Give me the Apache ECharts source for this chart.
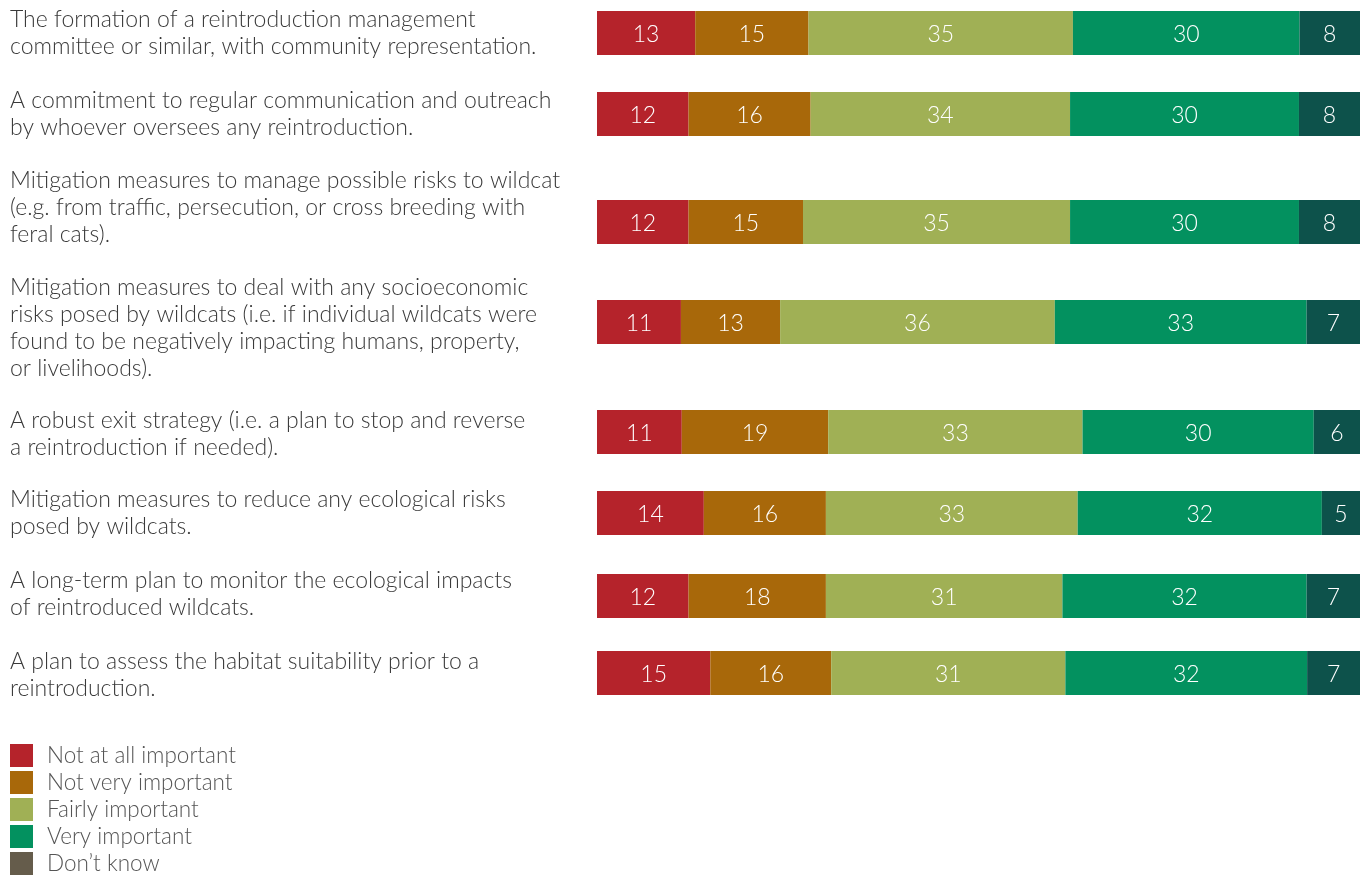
<!DOCTYPE html>
<html>
<head>
<meta charset="utf-8">
<script src="https://cdn.jsdelivr.net/npm/echarts@6/dist/echarts.min.js"></script>
<style>
html,body{margin:0;padding:0;background:#fff;}
#chart{width:1362px;height:877px;}
</style>
</head>
<body>
<div id="chart"></div>
<script>
// ---- data ----
var statements = [
  "The formation of a reintroduction management\ncommittee or similar, with community representation.",
  "A commitment to regular communication and outreach\nby whoever oversees any reintroduction.",
  "Mitigation measures to manage possible risks to wildcat\n(e.g. from traffic, persecution, or cross breeding with\nferal cats).",
  "Mitigation measures to deal with any socioeconomic\nrisks posed by wildcats (i.e. if individual wildcats were\nfound to be negatively impacting humans, property,\nor livelihoods).",
  "A robust exit strategy (i.e. a plan to stop and reverse\na reintroduction if needed).",
  "Mitigation measures to reduce any ecological risks\nposed by wildcats.",
  "A long-term plan to monitor the ecological impacts\nof reintroduced wildcats.",
  "A plan to assess the habitat suitability prior to a\nreintroduction."
];
var responses = ["Not at all important", "Not very important", "Fairly important", "Very important", "Don\u2019t know"];
var notAtAll  = [13, 12, 12, 11, 11, 14, 12, 15];
var notVery   = [15, 16, 15, 13, 19, 16, 18, 16];
var fairly    = [35, 34, 35, 36, 33, 33, 31, 31];
var very      = [30, 30, 30, 33, 30, 32, 32, 32];
var dontKnow  = [8, 8, 8, 7, 6, 5, 7, 7];

// ---- layout / style ----
var rowPos   = [33, 114, 222, 322, 432, 513, 596, 673];   // vertical slot of each row (axis units)
var labelPos = [33.5, 114, 208, 328, 434, 513, 594, 675];
var barColors = ["#B5232B", "#A8680A", "#A0B055", "#03915F", "#0D524B"];
var legendColors = ["#B5232B", "#A8680A", "#A0B055", "#03915F", "#655C4B"];
var FONT = "Lato";

var valueSets = [notAtAll, notVery, fairly, very, dontKnow];

function segData(k) {
  return statements.map(function (s, i) {
    var total = 0, before = 0;
    for (var j = 0; j < valueSets.length; j++) {
      total += valueSets[j][i];
      if (j < k) before += valueSets[j][i];
    }
    var start = before / total * 100;
    var end = (before + valueSets[k][i]) / total * 100;
    return [start, end, rowPos[i], valueSets[k][i]];
  });
}

function renderSeg(params, api) {
  var p0 = api.coord([api.value(0), api.value(2)]);
  var p1 = api.coord([api.value(1), api.value(2)]);
  var h = api.size([0, 44])[1];
  return {
    type: 'rect',
    shape: { x: p0[0], y: p0[1] - h / 2, width: p1[0] - p0[0], height: h },
    style: { fill: api.visual('color') },
    textContent: {
      style: {
        text: String(api.value(3)),
        fill: '#fff',
        font: '300 23px ' + FONT
      }
    },
    textConfig: { position: 'inside', offset: [0, 2] }
  };
}

var series = responses.map(function (name, k) {
  return {
    type: 'custom',
    name: name,
    coordinateSystem: 'cartesian2d',
    itemStyle: { color: barColors[k] },
    renderItem: renderSeg,
    data: segData(k),
    encode: { x: [0, 1], y: 2 },
    silent: true
  };
});

series.push({
  type: 'custom',
  name: 'labels',
  coordinateSystem: 'cartesian2d',
  silent: true,
  data: statements.map(function (s, i) { return [0, labelPos[i], i]; }),
  encode: { x: 0, y: 1 },
  renderItem: function (params, api) {
    var p = api.coord([0, api.value(1)]);
    return {
      type: 'text',
      x: 10,
      y: p[1],
      style: {
        text: statements[api.value(2)],
        fill: '#3a3a3a',
        font: '300 23px ' + FONT,
        lineHeight: 27,
        verticalAlign: 'middle',
        align: 'left'
      }
    };
  }
});

var chart = echarts.init(document.getElementById('chart'), null, { renderer: 'canvas' });
chart.setOption({
  animation: false,
  backgroundColor: '#fff',
  grid: { left: 597, right: 2, top: 0, height: 877 },
  xAxis: { type: 'value', min: 0, max: 100, show: false },
  yAxis: { type: 'value', min: 0, max: 877, inverse: true, show: false },
  legend: {
    orient: 'vertical',
    left: 10,
    top: 744,
    icon: 'rect',
    itemWidth: 23,
    itemHeight: 23,
    itemGap: 4,
    padding: 0,
    selectedMode: false,
    textStyle: { fontFamily: FONT, fontWeight: 300, fontSize: 22.5, color: '#555', lineHeight: 16, padding: [7, 0, 0, 9] },
    data: responses.map(function (n, k) { return { name: n, itemStyle: { color: legendColors[k] } }; })
  },
  series: series
});
</script>
</body>
</html>
